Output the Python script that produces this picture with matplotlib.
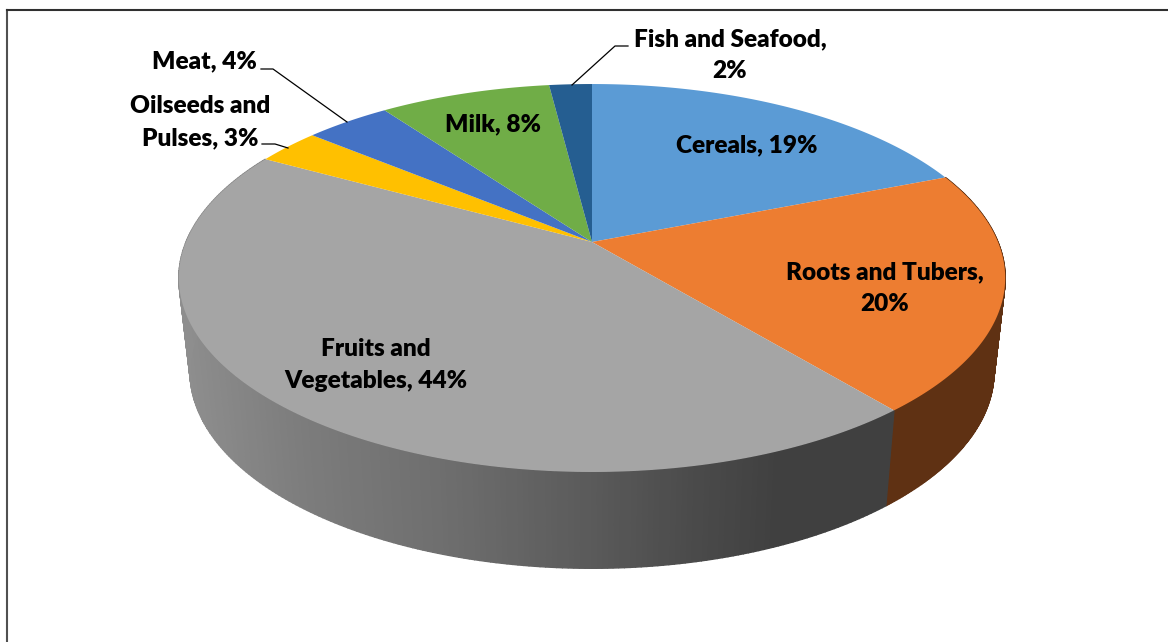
import numpy as np
import matplotlib
matplotlib.use("Agg")
import matplotlib.pyplot as plt
from matplotlib.patches import Polygon

categories = ["Cereals", "Roots and Tubers", "Fruits and Vegetables",
              "Oilseeds and Pulses", "Meat", "Milk", "Fish and Seafood"]
shares = [19, 20, 44, 3, 4, 8, 2]
colors = ["#5B9BD5", "#ED7D31", "#A5A5A5", "#FFC000", "#4472C4", "#70AD47", "#255E91"]

# side shading of the grey slice
side_x = [180, 300, 450, 600, 700, 780, 890]
side_grey = [0.56, 0.49, 0.43, 0.35, 0.29, 0.25, 0.25]
roots_side = "#5F3113"

# pie geometry in pixels, with a bit of perspective
cx, top_y, bottom_y = 592, 242, 335
top_a, top_c = 187.3, 406
bottom_a, bottom_c = 190, 395
k = 0.1856


def top_point(t):
    u, v = np.sin(t), -np.cos(t)
    return cx + top_c * u / (1 - k * v), top_y + top_a * v / (1 - k * v)


def bottom_point(t):
    u, v = np.sin(t), -np.cos(t)
    return cx + bottom_c * u / (1 - k * v), bottom_y + bottom_a * v / (1 - k * v)


fig = plt.figure(figsize=(11.68, 6.42), dpi=100)
ax = fig.add_axes([0, 0, 1, 1])
ax.set_xlim(0, 1168)
ax.set_ylim(642, 0)
ax.axis("off")

plt.rcParams["font.family"] = "Lato"

edges = np.cumsum([0] + shares) / sum(shares) * 2 * np.pi

# sides, only roots and fruits can be seen
for i in [1, 2]:
    ts = np.linspace(edges[i], edges[i + 1], 240)
    for a, b in zip(ts[:-1], ts[1:]):
        x1, y1 = top_point(a)
        x2, y2 = top_point(b)
        x3, y3 = bottom_point(b)
        x4, y4 = bottom_point(a)
        if i == 1:
            col = roots_side
        else:
            col = str(np.interp((x1 + x4) / 2, side_x, side_grey))
        ax.add_patch(Polygon([(x1, y1), (x2, y2), (x3, y3), (x4, y4)],
                             closed=True, fc=col, ec=col, lw=1.0, zorder=2))

# top faces
for i, col in enumerate(colors):
    ts = np.linspace(edges[i], edges[i + 1], 200)
    xs, ys = top_point(ts)
    pts = [(cx, top_y)] + list(zip(xs, ys))
    ax.add_patch(Polygon(pts, closed=True, fc=col, ec="none", zorder=3))

# leader lines
ax.plot([261, 273, 347], [69, 69, 122], color="black", lw=0.9, zorder=4)
ax.plot([262, 275, 288], [144, 144, 148], color="black", lw=0.9, zorder=4)
ax.plot([572, 615, 628], [85, 46, 46], color="black", lw=0.9, zorder=4)

# labels
fs = 17.6
kw = dict(fontsize=fs, fontweight="heavy", color="black", ha="center", va="center",
          zorder=5, linespacing=1.55)
ax.text(747, 145, "Cereals, 19%", **kw)
ax.text(885, 288, "Roots and Tubers,\n20%", **kw)
ax.text(376, 365, "Fruits and\nVegetables, 44%", **kw)
ax.text(200, 122, "Oilseeds and\nPulses, 3%", **kw)
ax.text(204, 61, "Meat, 4%", **kw)
ax.text(493, 124, "Milk, 8%", **kw)
ax.text(730, 55, "Fish and Seafood,\n2%", **kw)

# chart border, left and top only
ax.plot([7, 7], [642, 10], color="#505050", lw=1.5, zorder=1)
ax.plot([7, 1168], [10, 10], color="#303030", lw=1.5, zorder=1)

fig.savefig("out.png", dpi=100)
